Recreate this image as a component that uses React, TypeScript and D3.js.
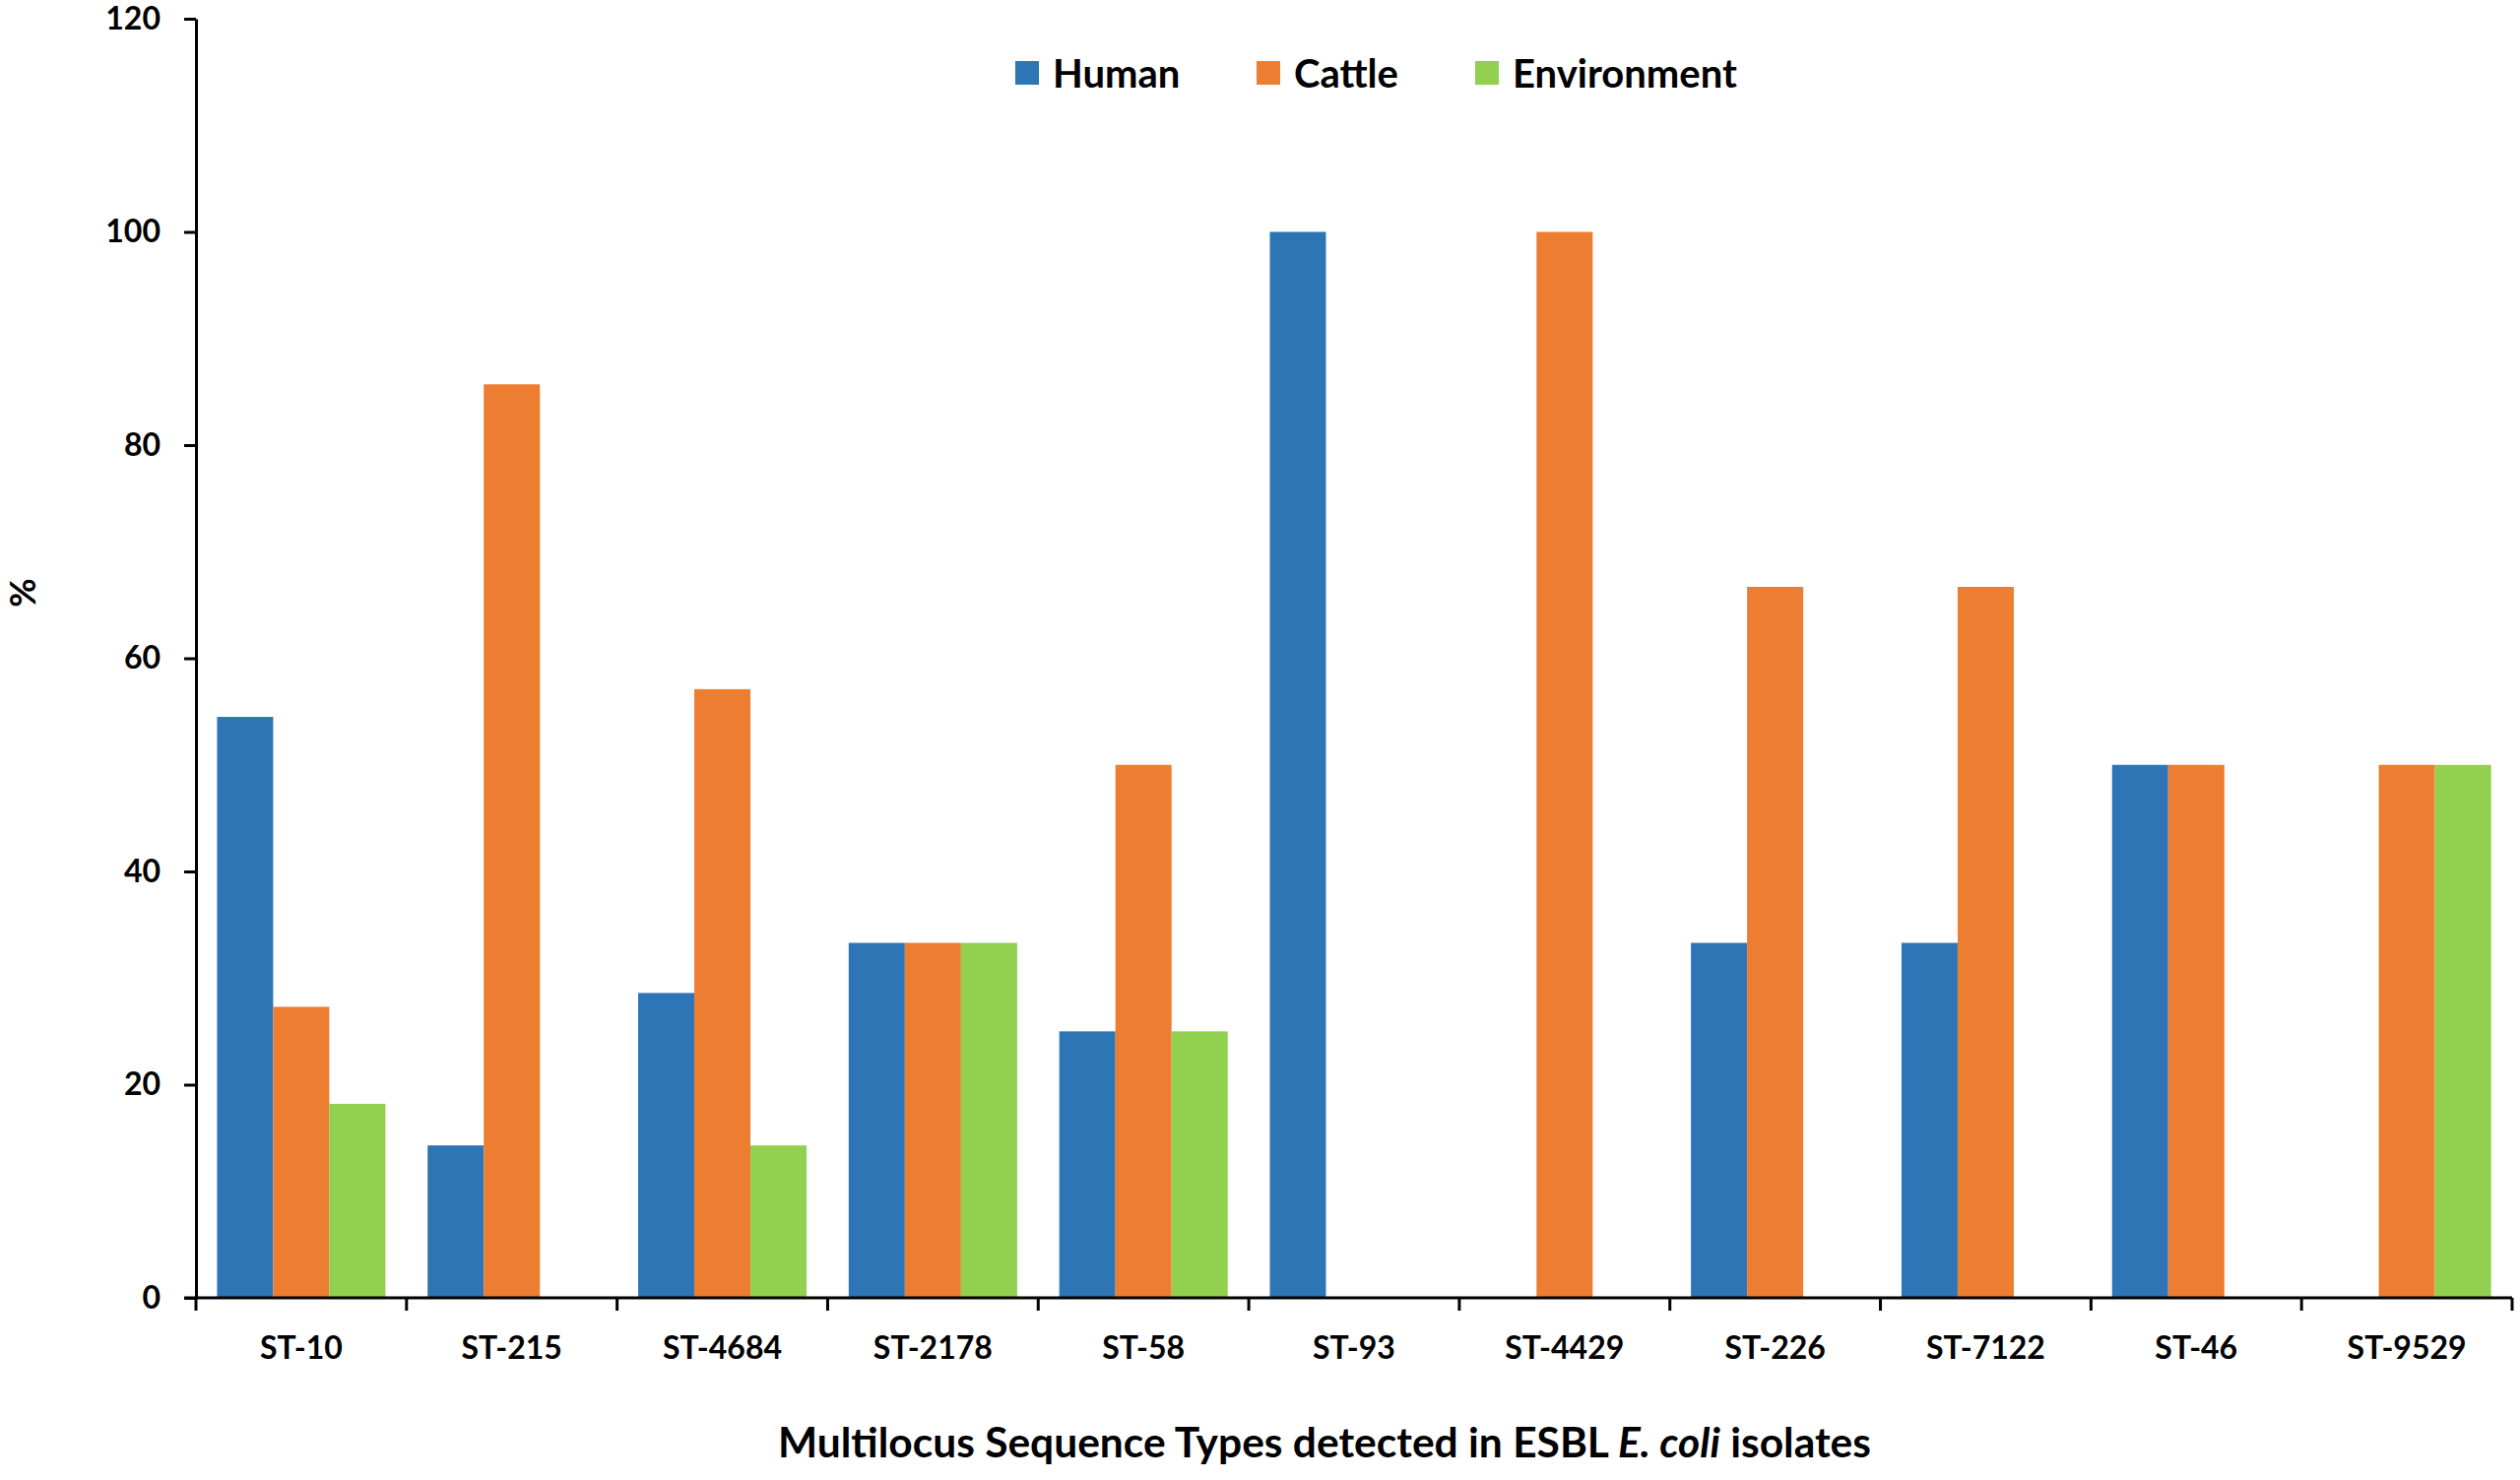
import React, { useEffect, useRef } from "react";
import * as d3 from "d3";

const categories = ["ST-10", "ST-215", "ST-4684", "ST-2178", "ST-58", "ST-93", "ST-4429", "ST-226", "ST-7122", "ST-46", "ST-9529"];
const seriesNames = ["Human", "Cattle", "Environment"];
const human = [54.5, 14.3, 28.6, 33.3, 25, 100, 0, 33.3, 33.3, 50, 0];
const cattle = [27.3, 85.7, 57.1, 33.3, 50, 0, 100, 66.7, 66.7, 50, 50];
const environment = [18.2, 0, 14.3, 33.3, 25, 0, 0, 0, 0, 0, 50];
const yTicks = [0, 20, 40, 60, 80, 100, 120];
const colors = ["#2E75B6", "#ED7D31", "#92D050"];

const W = 2559;
const H = 1503;
const FONT = "Lato, 'Open Sans', sans-serif";

const App = () => {
    const ref = useRef<SVGSVGElement>(null);

    useEffect(() => {
        document.body.style.margin = "0";
        const svg = d3.select(ref.current);
        svg.selectAll("*").remove();

        const values = [human, cattle, environment];

        const x0 = d3.scaleBand<string>()
            .domain(categories)
            .range([ 199, 2551 ])
            .paddingInner(0.2)
            .paddingOuter(0.1);

        const x1 = d3.scaleBand<string>()
            .domain(seriesNames)
            .range([ 0, x0.bandwidth() ]);

        const y = d3.scaleLinear()
            .domain([ 0, 120 ])
            .range([ 1318, 19 ]);

        // bars
        const groups = svg.append("g")
            .selectAll("g")
            .data(categories)
            .join("g")
            .attr("transform", d => `translate(${x0(d)},0)`);

        groups.selectAll("rect")
            .data((d, i) => seriesNames.map((s, k) => ({ s, v: values[k][i], k })))
            .join("rect")
            .attr("x", d => x1(d.s) as number)
            .attr("width", x1.bandwidth())
            .attr("y", d => y(d.v))
            .attr("height", d => y(0) - y(d.v))
            .attr("fill", d => colors[d.k]);

        // y axis
        svg.append("g")
            .attr("transform", `translate(${x0.range()[0]},0)`)
            .call(d3.axisLeft(y).tickValues(yTicks).tickSize(12).tickSizeOuter(0).tickPadding(24))
            .call(g => g.select(".domain").attr("stroke", "#000").attr("stroke-width", 3))
            .call(g => g.selectAll(".tick line").attr("stroke", "#000").attr("stroke-width", 3))
            .call(g => g.selectAll(".tick text")
                .attr("font-family", FONT)
                .attr("font-size", 32)
                .attr("font-weight", "bold")
                .attr("fill", "#000"));

        // x axis
        const xr = x0.range();
        const xAxis = svg.append("g").attr("transform", `translate(0,${y(0)})`);
        xAxis.append("line")
            .attr("x1", xr[0] - 12)
            .attr("x2", xr[1])
            .attr("stroke", "#000")
            .attr("stroke-width", 3);
        xAxis.selectAll("line.tk")
            .data(d3.range(categories.length + 1))
            .join("line")
            .attr("class", "tk")
            .attr("x1", i => xr[0] + i * x0.step())
            .attr("x2", i => xr[0] + i * x0.step())
            .attr("y1", 0)
            .attr("y2", 13)
            .attr("stroke", "#000")
            .attr("stroke-width", 3);
        xAxis.selectAll("text")
            .data(categories)
            .join("text")
            .attr("x", d => (x0(d) as number) + x0.bandwidth() / 2)
            .attr("y", 62)
            .attr("text-anchor", "middle")
            .attr("font-family", FONT)
            .attr("font-size", 32)
            .attr("font-weight", "bold")
            .text(d => d);

        // axis titles
        svg.append("text")
            .attr("transform", "translate(36,602) rotate(-90)")
            .attr("text-anchor", "middle")
            .attr("font-family", FONT)
            .attr("font-size", 36)
            .attr("font-weight", "bold")
            .text("%");

        const title = svg.append("text")
            .attr("x", 1345)
            .attr("y", 1480)
            .attr("text-anchor", "middle")
            .attr("font-family", FONT)
            .attr("font-size", 42.5)
            .attr("font-weight", "bold");
        title.append("tspan").text("Multilocus Sequence Types detected in ESBL ");
        title.append("tspan").attr("font-style", "italic").text("E. coli");
        title.append("tspan").text(" isolates");

        // legend
        const legendX = [ 1031, 1276, 1498 ];
        const legend = svg.append("g")
            .selectAll("g")
            .data(seriesNames)
            .join("g")
            .attr("transform", (d, i) => `translate(${legendX[i]},62)`);
        legend.append("rect")
            .attr("width", 24)
            .attr("height", 24)
            .attr("fill", (d, i) => colors[i]);
        legend.append("text")
            .attr("x", 38)
            .attr("y", 27)
            .attr("font-family", FONT)
            .attr("font-size", 40)
            .attr("font-weight", "bold")
            .text(d => d);
    }, []);

    return (
        <svg ref={ref} width={W} height={H} style={{ display: "block", background: "#fff" }} />
    );
};

export default App;
